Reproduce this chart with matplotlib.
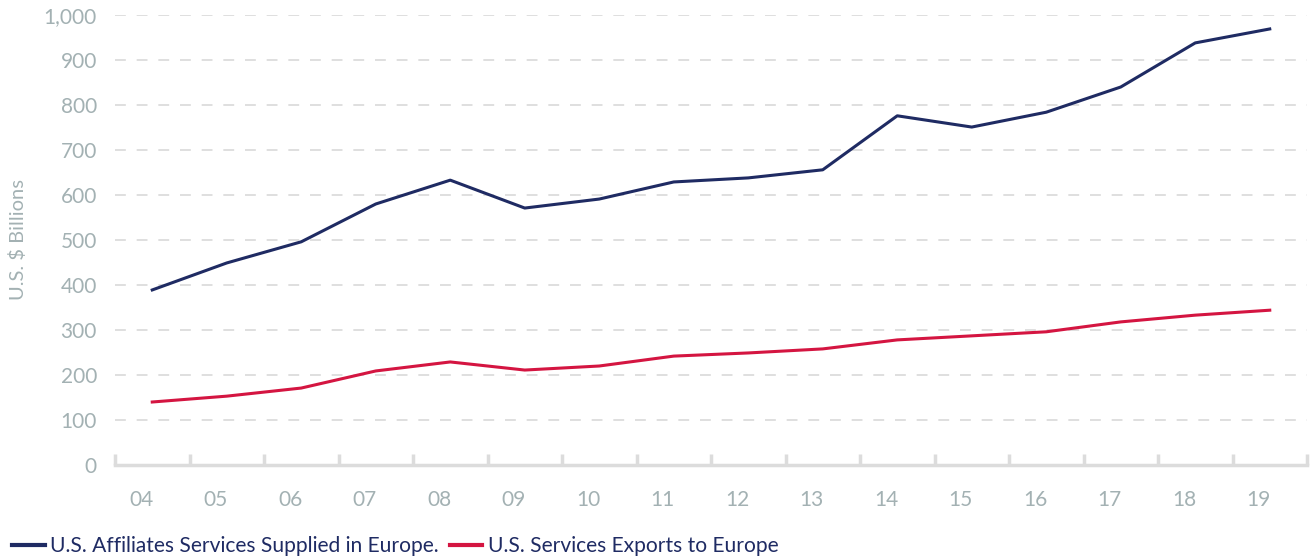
import matplotlib
matplotlib.use("Agg")
import matplotlib.pyplot as plt
import numpy as np
from matplotlib.lines import Line2D

years = ["04", "05", "06", "07", "08", "09", "10", "11", "12", "13", "14", "15", "16", "17", "18", "19"]
affiliates = [389, 449, 496, 580, 633, 571, 591, 629, 638, 656, 776, 751, 784, 840, 938, 969]
exports = [140, 153, 171, 209, 229, 211, 220, 242, 249, 258, 278, 287, 296, 318, 333, 344]
yticks = [0, 100, 200, 300, 400, 500, 600, 700, 800, 900, 1000]

navy = "#1f2b63"
red = "#d41541"
grey_txt = "#a3b1b3"
grid_c = "#dcdcdc"

plt.rcParams['font.family'] = ['Lato', 'DejaVu Sans']

fig = plt.figure(figsize=(13.12, 5.59), dpi=100)
ax = fig.add_axes([115/1312, 94/559, 1192/1312, 450/559])

x = np.arange(len(years))
ax.plot(x, affiliates, color=navy, lw=2.2)
ax.plot(x, exports, color=red, lw=2.2)

ax.set_xlim(-0.5, len(years) - 0.5)
ax.set_ylim(0, 1000)

ax.set_yticks(yticks)
ax.set_yticklabels([f"{v:,}" for v in yticks])
for v in yticks[1:]:
    ax.axhline(v, color=grid_c, lw=1.3, dashes=(6, 6), zorder=0)

ax.set_xticks(np.arange(len(years) + 1) - 0.5)
ax.set_xticklabels([])
ax.set_xticks(x - 0.15, minor=True)
ax.set_xticklabels(years, minor=True)
ax.tick_params(axis='x', which='major', direction='in', length=8, width=2.5, color=grid_c)
ax.tick_params(axis='x', which='minor', length=0, pad=18, labelsize=15, labelcolor=grey_txt)
ax.tick_params(axis='y', length=0, pad=13, labelsize=15, labelcolor=grey_txt)

for s in ['top', 'right', 'left']:
    ax.spines[s].set_visible(False)
ax.spines['bottom'].set_color(grid_c)
ax.spines['bottom'].set_linewidth(2.5)

fig.text(18/1312, 1 - 240/559, "U.S. $ Billions", rotation=90, ha='center', va='center',
         fontsize=14.5, color=grey_txt)

handles = [Line2D([], [], color=navy, lw=3), Line2D([], [], color=red, lw=3)]
labels = ["U.S. Affiliates Services Supplied in Europe.", "U.S. Services Exports to Europe"]
leg = fig.legend(handles, labels, loc='center left', bbox_to_anchor=(12/1312, 1 - 546/559), ncol=2,
                 frameon=False, fontsize=15.1, handlelength=1.55, handletextpad=0.25, columnspacing=0.55,
                 borderaxespad=0, borderpad=0)
for t in leg.get_texts():
    t.set_color(navy)

fig.savefig("out.png", dpi=100)
